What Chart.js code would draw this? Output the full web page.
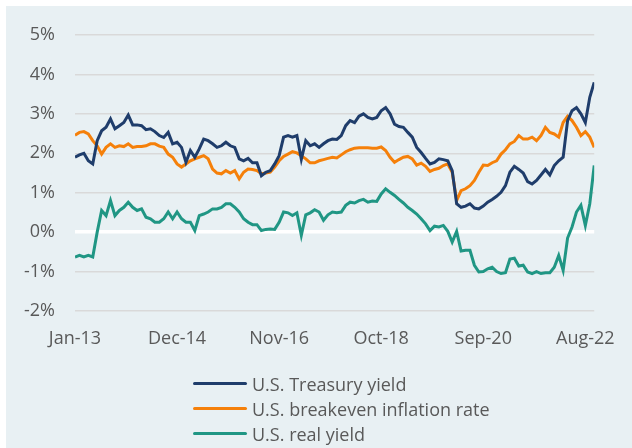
<!DOCTYPE html>
<html>
<head>
<meta charset="utf-8">
<script src="https://cdn.jsdelivr.net/npm/chart.js@4"></script>
<style>
  html, body { margin: 0; padding: 0; background: #ffffff; }
  #panel { position: absolute; left: 6px; top: 6px; width: 626px; height: 442px; background: #e8f0f3; }
  #chart { position: absolute; left: 0; top: 0; }
  #legend { position: absolute; left: 193px; top: 371px; font-family: "Open Sans", sans-serif;
    font-size: 18px; color: #595959; }
  .item { height: 25px; display: flex; align-items: center; white-space: nowrap; }
  .swatch { width: 54px; height: 3px; border-radius: 2px; margin-right: 5px; }
</style>
</head>
<body>
<div id="panel"></div>
<canvas id="chart" width="632" height="448"></canvas>
<div id="legend"></div>
<script>
// monthly readings, Jan-13 .. Oct-22 (index 0 = Jan-13)
const tickLabels = ['Jan-13', 'Dec-14', 'Nov-16', 'Oct-18', 'Sep-20', 'Aug-22'];
const tickPositions = [0, 23, 46, 69, 92, 115];

const seriesNames = ['U.S. Treasury yield', 'U.S. breakeven inflation rate', 'U.S. real yield'];
const seriesColors = ['#1f3d6b', '#f5800a', '#209684'];

const treasury = [
  1.90, 1.96, 2.00, 1.81, 1.73, 2.32, 2.57, 2.66, 2.87, 2.62,
  2.70, 2.78, 2.97, 2.72, 2.72, 2.70, 2.60, 2.62, 2.55, 2.45,
  2.40, 2.53, 2.24, 2.28, 2.15, 1.77, 2.07, 1.90, 2.11, 2.36,
  2.32, 2.24, 2.15, 2.19, 2.28, 2.19, 2.15, 1.86, 1.81, 1.87,
  1.76, 1.76, 1.43, 1.52, 1.56, 1.73, 1.94, 2.41, 2.45, 2.41,
  2.45, 1.85, 2.32, 2.19, 2.24, 2.15, 2.24, 2.32, 2.36, 2.35,
  2.45, 2.70, 2.83, 2.78, 2.94, 3.00, 2.91, 2.87, 2.91, 3.08,
  3.16, 3.00, 2.74, 2.68, 2.66, 2.53, 2.41, 2.15, 2.02, 1.87,
  1.73, 1.77, 1.86, 1.84, 1.81, 1.56, 0.72, 0.63, 0.66, 0.72,
  0.61, 0.59, 0.66, 0.76, 0.83, 0.91, 1.01, 1.18, 1.52, 1.67,
  1.59, 1.50, 1.28, 1.22, 1.31, 1.45, 1.59, 1.45, 1.69, 1.81,
  1.90, 2.83, 3.08, 3.16, 3.00, 2.78, 3.42, 3.80
];

const breakeven = [
  2.46, 2.53, 2.55, 2.49, 2.32, 2.19, 1.98, 2.15, 2.24, 2.15,
  2.19, 2.17, 2.24, 2.15, 2.17, 2.17, 2.19, 2.24, 2.24, 2.18,
  2.15, 1.98, 1.90, 1.73, 1.65, 1.73, 1.81, 1.86, 1.90, 1.94,
  1.86, 1.60, 1.50, 1.48, 1.56, 1.50, 1.56, 1.35, 1.52, 1.60,
  1.59, 1.56, 1.48, 1.50, 1.52, 1.65, 1.81, 1.92, 1.98, 2.04,
  2.01, 1.94, 1.86, 1.76, 1.76, 1.81, 1.84, 1.87, 1.90, 1.88,
  1.96, 2.04, 2.09, 2.13, 2.14, 2.14, 2.14, 2.13, 2.13, 2.16,
  2.07, 1.90, 1.77, 1.84, 1.90, 1.92, 1.86, 1.70, 1.75, 1.67,
  1.54, 1.59, 1.62, 1.69, 1.73, 1.52, 0.80, 1.05, 1.10, 1.18,
  1.31, 1.52, 1.70, 1.69, 1.76, 1.81, 1.98, 2.09, 2.24, 2.30,
  2.45, 2.36, 2.36, 2.41, 2.32, 2.45, 2.66, 2.53, 2.49, 2.41,
  2.78, 2.94, 2.83, 2.66, 2.45, 2.55, 2.41, 2.15
];

const realYield = [
  -0.63, -0.59, -0.63, -0.59, -0.63, 0.00, 0.55, 0.42, 0.80, 0.42,
  0.55, 0.63, 0.76, 0.63, 0.55, 0.59, 0.38, 0.34, 0.25, 0.25,
  0.34, 0.51, 0.34, 0.51, 0.34, 0.25, 0.25, 0.04, 0.42, 0.46,
  0.51, 0.59, 0.59, 0.63, 0.72, 0.72, 0.63, 0.51, 0.34, 0.25,
  0.19, 0.19, 0.04, 0.07, 0.08, 0.07, 0.25, 0.51, 0.49, 0.42,
  0.49, -0.08, 0.44, 0.49, 0.57, 0.51, 0.30, 0.44, 0.51, 0.49,
  0.51, 0.68, 0.76, 0.74, 0.80, 0.83, 0.76, 0.79, 0.78, 0.97,
  1.10, 1.01, 0.93, 0.83, 0.74, 0.63, 0.55, 0.46, 0.34, 0.21,
  0.04, 0.15, 0.13, 0.17, 0.02, -0.25, 0.02, -0.48, -0.46, -0.46,
  -0.84, -1.01, -1.00, -0.93, -0.89, -1.00, -1.05, -1.03, -0.68, -0.66,
  -0.86, -0.84, -1.01, -1.05, -1.00, -1.05, -1.03, -1.03, -0.89, -0.59,
  -0.97, -0.15, 0.13, 0.51, 0.68, 0.17, 0.72, 1.69
];

const seriesData = [treasury, breakeven, realYield];
const font = { family: '"Open Sans", sans-serif', size: 18 };

const datasets = seriesData.map((vals, i) => ({
  label: seriesNames[i],
  data: vals.map((v, m) => ({ x: m, y: v })),
  borderColor: seriesColors[i],
  borderWidth: 3,
  pointRadius: 0,
  tension: 0,
  order: i
}));

new Chart(document.getElementById('chart'), {
  type: 'line',
  data: { datasets: datasets },
  options: {
    responsive: false,
    animation: false,
    layout: { padding: { top: 35, right: 22, bottom: 87, left: 0 } },
    plugins: { legend: { display: false }, tooltip: { enabled: false } },
    scales: {
      x: {
        type: 'linear',
        min: 0,
        max: 117,
        grid: { display: false, drawTicks: false },
        border: { display: false },
        afterBuildTicks: (axis) => { axis.ticks = tickPositions.map(v => ({ value: v })); },
        afterFit: (axis) => { axis.height = 50; },
        ticks: {
          autoSkip: false,
          maxRotation: 0,
          padding: 17,
          color: '#595959',
          font: font,
          callback: (v) => tickLabels[tickPositions.indexOf(v)]
        }
      },
      y: {
        min: -2,
        max: 5,
        border: { display: false },
        afterFit: (axis) => { axis.width = 75; },
        grid: {
          drawTicks: false,
          color: (c) => c.tick.value === 0 ? '#ffffff' : '#d9d9d9',
          lineWidth: (c) => c.tick.value === 0 ? 3.5 : 1.5
        },
        ticks: {
          stepSize: 1,
          padding: 20,
          color: '#595959',
          font: font,
          callback: (v) => v + '%'
        }
      }
    }
  }
});

// legend stacked in one column
const legend = document.getElementById('legend');
seriesNames.forEach((name, i) => {
  const row = document.createElement('div');
  row.className = 'item';
  row.innerHTML = '<span class="swatch" style="background:' + seriesColors[i] + '"></span><span>' + name + '</span>';
  legend.appendChild(row);
});
</script>
</body>
</html>
